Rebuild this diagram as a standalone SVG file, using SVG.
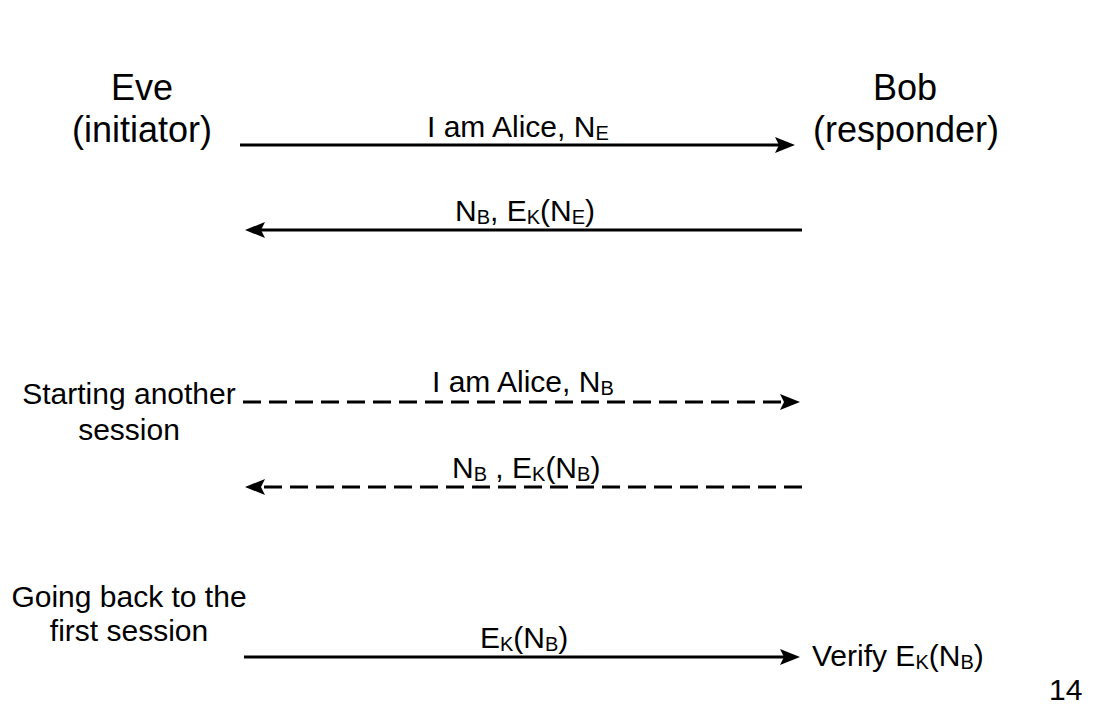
<svg xmlns="http://www.w3.org/2000/svg" width="1112" height="713" viewBox="0 0 1112 713">
<style>
text{font-family:"Liberation Sans",Arial,sans-serif;fill:#000}
.big{font-size:36px}
.mid{font-size:30px}
.lbl{font-size:30px}
.sub{font-size:20px}
.ln{stroke:#000;stroke-width:3;fill:none;marker-end:url(#ah)}
.dash{stroke-dasharray:18 8}
</style>
<defs>
<marker id="ah" viewBox="0 0 20 16" refX="10" refY="8" markerWidth="20" markerHeight="16" orient="auto" markerUnits="userSpaceOnUse">
<path d="M0,0 L20,8 L0,16 L4,8 Z" fill="#000"/>
</marker>
</defs>
<rect width="1112" height="713" fill="#fff"/>
<g id="eve">
<text class="big" x="142" y="100" text-anchor="middle">Eve</text>
<text class="big" x="142" y="142" text-anchor="middle">(initiator)</text>
</g>
<g id="bob">
<text class="big" x="905" y="100" text-anchor="middle">Bob</text>
<text class="big" x="906" y="142" text-anchor="middle">(responder)</text>
</g>
<g id="note-another">
<text class="mid" x="129" y="404" text-anchor="middle">Starting another</text>
<text class="mid" x="129" y="440" text-anchor="middle">session</text>
</g>
<g id="note-back">
<text class="mid" x="129" y="607" text-anchor="middle">Going back to the</text>
<text class="mid" x="129" y="641" text-anchor="middle">first session</text>
</g>
<g id="connectors">
<line class="ln" x1="240" y1="145" x2="785" y2="145"/>
<line class="ln" x1="802" y1="230" x2="255" y2="230"/>
<line class="ln dash" x1="243" y1="402" x2="790" y2="402"/>
<line class="ln dash" x1="802" y1="487" x2="255" y2="487"/>
<line class="ln" x1="244" y1="657" x2="790" y2="657"/>
</g>
<g id="labels">
<text class="lbl" x="427" y="137">I am Alice, N<tspan class="sub" dy="3">E</tspan></text>
<text class="lbl" x="455" y="221">N<tspan class="sub" dy="3">B</tspan><tspan dy="-3">, E</tspan><tspan class="sub" dy="3">K</tspan><tspan dy="-3">(N</tspan><tspan class="sub" dy="3">E</tspan><tspan dy="-3">)</tspan></text>
<text class="lbl" x="432" y="392">I am Alice, N<tspan class="sub" dy="3">B</tspan></text>
<text class="lbl" x="452" y="478">N<tspan class="sub" dy="3">B</tspan><tspan dy="-3"> , E</tspan><tspan class="sub" dy="3">K</tspan><tspan dy="-3">(N</tspan><tspan class="sub" dy="3">B</tspan><tspan dy="-3">)</tspan></text>
<text class="lbl" x="480" y="648">E<tspan class="sub" dy="3">K</tspan><tspan dy="-3">(N</tspan><tspan class="sub" dy="3">B</tspan><tspan dy="-3">)</tspan></text>
<text class="lbl" x="812" y="666">Verify E<tspan class="sub" dy="3">K</tspan><tspan dy="-3">(N</tspan><tspan class="sub" dy="3">B</tspan><tspan dy="-3">)</tspan></text>
</g>
<text class="mid" x="1049" y="700">14</text>
</svg>
